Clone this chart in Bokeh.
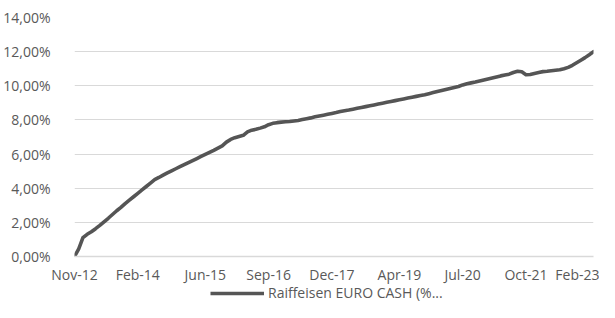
from bokeh.plotting import figure
from bokeh.layouts import column
from bokeh.models import Range1d, FixedTicker, Legend, LegendItem, ColumnDataSource
from bokeh.embed import file_html
from bokeh.resources import INLINE

# Monthly index from Nov-12 (0) to Feb-23 (123)
months = list(range(124))
values = [
    0.00, 0.45, 1.10, 1.30, 1.45, 1.63, 1.82, 2.03, 2.24, 2.46,
    2.68, 2.88, 3.10, 3.30, 3.50, 3.70, 3.90, 4.10, 4.30, 4.50,
    4.63, 4.77, 4.90, 5.02, 5.14, 5.26, 5.38, 5.50, 5.62, 5.74,
    5.86, 5.98, 6.10, 6.22, 6.35, 6.48, 6.70, 6.86, 6.96, 7.03,
    7.10, 7.30, 7.40, 7.45, 7.52, 7.60, 7.72, 7.80, 7.84, 7.87,
    7.89, 7.91, 7.94, 7.97, 8.02, 8.07, 8.12, 8.18, 8.23, 8.28,
    8.33, 8.38, 8.43, 8.49, 8.54, 8.58, 8.63, 8.68, 8.73, 8.78,
    8.83, 8.88, 8.93, 8.98, 9.03, 9.08, 9.13, 9.18, 9.23, 9.28,
    9.33, 9.38, 9.43, 9.48, 9.54, 9.60, 9.66, 9.72, 9.78, 9.84,
    9.90, 9.96, 10.05, 10.12, 10.17, 10.22, 10.28, 10.34, 10.40, 10.46,
    10.52, 10.58, 10.63, 10.68, 10.78, 10.85, 10.82, 10.65, 10.66, 10.72,
    10.78, 10.83, 10.85, 10.88, 10.91, 10.94, 11.00, 11.08, 11.20, 11.35,
    11.50, 11.65, 11.82, 12.00,
]
x_tick_pos = [0, 15, 31, 46, 61, 77, 92, 107, 121]
x_tick_labels = ["Nov-12", "Feb-14", "Jun-15", "Sep-16", "Dec-17",
                 "Apr-19", "Jul-20", "Oct-21", "Feb-23"]
y_ticks = [0, 2, 4, 6, 8, 10, 12, 14]
y_tick_labels = ["0,00%", "2,00%", "4,00%", "6,00%", "8,00%",
                 "10,00%", "12,00%", "14,00%"]
series_name = "Raiffeisen EURO CASH (%..."

FONT = "Open Sans"
TXT = "#595959"
GRID = "#d9d9d9"
LINE = "#555555"

# ---- main chart ----
p = figure(width=599, height=286, output_backend="svg", toolbar_location=None,
           x_range=Range1d(0, 123), y_range=Range1d(0, 14))
p.min_border_left = 71
p.min_border_right = 6
p.min_border_top = 17
p.min_border_bottom = 30
p.outline_line_color = None
p.background_fill_color = "white"
p.border_fill_color = "white"

src = ColumnDataSource(dict(x=months, y=values))
p.line("x", "y", source=src, line_color=LINE, line_width=3.6,
       line_join="round", line_cap="round")

p.xaxis.ticker = FixedTicker(ticks=x_tick_pos)
p.xaxis.major_label_overrides = {t: l for t, l in zip(x_tick_pos, x_tick_labels)}
p.yaxis.ticker = FixedTicker(ticks=y_ticks)
p.yaxis.major_label_overrides = {t: l for t, l in zip(y_ticks, y_tick_labels)}
for ax in (p.xaxis, p.yaxis):
    ax.major_tick_line_color = None
    ax.minor_tick_line_color = None
    ax.major_label_text_font = FONT
    ax.major_label_text_font_size = "14px"
    ax.major_label_text_color = TXT
p.xaxis.axis_line_color = GRID
p.xaxis.axis_line_width = 1.5
p.yaxis.axis_line_color = None
p.yaxis.major_label_standoff = 18
p.xaxis.major_label_standoff = 2

p.xgrid.grid_line_color = None
p.ygrid.grid_line_color = GRID
p.ygrid.grid_line_width = 1.2

# ---- legend strip ----
lg = figure(width=599, height=16, output_backend="svg", toolbar_location=None,
            x_range=Range1d(0, 1), y_range=Range1d(0, 1),
            x_axis_location=None, y_axis_location=None)
lg.min_border_left = 0
lg.min_border_right = 0
lg.min_border_top = 0
lg.min_border_bottom = 0
lg.outline_line_color = None
lg.xgrid.grid_line_color = None
lg.ygrid.grid_line_color = None
lg.background_fill_color = "white"
lg.border_fill_color = "white"
# legend proxy renderer, kept outside the visible range of the strip
lr = lg.line(x=[5, 6], y=[5, 5], line_color=LINE, line_width=3.6)

legend = Legend(items=[LegendItem(label=series_name, renderers=[lr])],
                location=(136, 0), orientation="horizontal",
                glyph_width=54, glyph_height=16, label_height=16,
                label_standoff=4, padding=0, margin=0, spacing=0,
                label_text_font=FONT, label_text_font_size="14px",
                label_text_color=TXT, border_line_color=None,
                background_fill_alpha=0)
lg.add_layout(legend, "center")

layout = column(p, lg, spacing=0)

open("out.html", "w").write(file_html(layout, INLINE))
